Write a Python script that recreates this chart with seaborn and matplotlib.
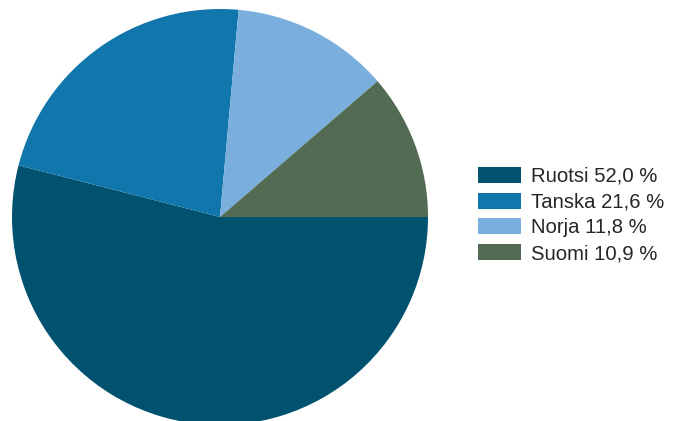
import matplotlib.pyplot as plt
import seaborn as sns

countries = ['Ruotsi', 'Tanska', 'Norja', 'Suomi']
shares = [52.0, 21.6, 11.8, 10.9]
colors = ['#00526f', '#1176ab', '#7aaedd', '#536a53']

sns.set_style('white')
plt.rcParams['font.family'] = ['Liberation Sans', 'DejaVu Sans']

fig = plt.figure(figsize=(6.85, 4.21), dpi=100)
# pie centre at (220, 217) px, radius 208 px
ax = fig.add_axes([12 / 685, -4 / 421, 416 / 685, 416 / 421])
wedges, _ = ax.pie(shares, colors=colors, startangle=0, counterclock=False,
                   radius=1, wedgeprops={'linewidth': 0})
ax.set_xlim(-1, 1)
ax.set_ylim(-1, 1)
ax.set_aspect('equal')
ax.axis('off')

labels = [f'{c} {v:.1f} %'.replace('.', ',') for c, v in zip(countries, shares)]
fs = 14.6
px = fs * 100 / 72
fig.legend(wedges, labels, loc='center left', bbox_to_anchor=(478 / 685, 1 - 215 / 421),
           frameon=False, fontsize=fs, handlelength=43 / px, handleheight=17 / px,
           handletextpad=10 / px, labelspacing=(27 - px) / px, borderpad=0,
           borderaxespad=0)

fig.savefig('out.png', dpi=100)
